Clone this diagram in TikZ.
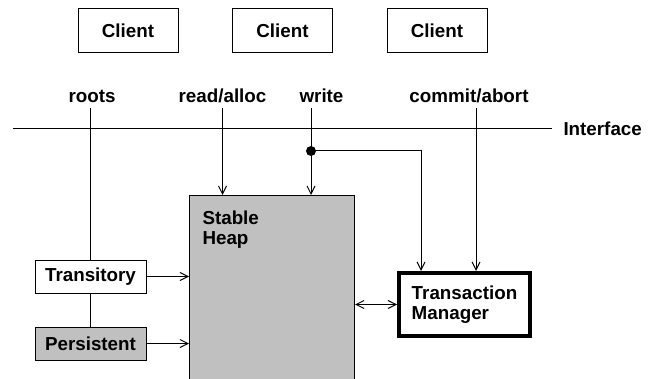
\documentclass[tikz,border=0pt]{standalone}
\usepackage{fontspec}
\setmainfont{Liberation Sans}
\usetikzlibrary{arrows.meta,positioning}
\definecolor{heapgray}{RGB}{192,192,192}

\begin{document}
\begin{tikzpicture}[x=1pt,y=-1pt,line width=1pt,
    every node/.style={font=\fontsize{18.8}{20}\selectfont\bfseries},
    client/.style={draw,minimum width=100pt,minimum height=44pt,inner sep=0pt},
    port/.style={inner sep=0pt,text height=13.5pt,text depth=5pt,anchor=base},
    rootbox/.style={draw,minimum width=111pt,minimum height=33pt,inner sep=0pt},
    >={Straight Barb[length=8pt,width=8pt]}]

    \useasboundingbox (0,0) rectangle (655,379);

    \node[client] at (128,31)   (client1) {Client};
    \node[client] at (282.5,31) (client2) {Client};
    \node[client] at (437,31)   (client3) {Client};

    \node[port] at (92,103)    (roots) {roots};
    \node[port] at (222.5,103) (readalloc) {read/alloc};
    \node[port] at (321.5,103) (write) {write};
    \node[port] at (469,103)   (commit) {commit/abort};

    \node[anchor=west,inner sep=0pt] at (563,129) (iface) {Interface};
    \coordinate (ifstart) at (13,129);
    \draw (ifstart) -- ([xshift=-11pt]iface.west);

    \node[draw,fill=heapgray,anchor=north west,minimum width=165pt,
          minimum height=200pt] at (189,195) (heap) {};
    \node[anchor=north west,align=left,inner sep=0pt,
          below right=15pt and 13pt of heap.north west] (heaplabel) {Stable\\Heap};

    \node[rootbox] at (90.5,276.5) (trans) {Transitory};
    \node[rootbox,fill=heapgray,below=33pt of trans] (pers) {Persistent};

    \node[draw,line width=4pt,align=left,minimum width=131pt,
          minimum height=63pt] at (464.5,304.5) (tm) {Transaction\\Manager};

    \node[circle,fill,inner sep=0pt,minimum size=10pt] at (311,151) (wdot) {};
    \coordinate (wturn) at (421,151);

    \draw (roots.south -| trans.north) -- (trans.north);
    \draw (trans.south) -- (pers.north);
    \draw [->] (trans.east) -- (trans.east -| heap.west);
    \draw [->] (pers.east) -- (pers.east -| heap.west);

    \draw [->] (readalloc.south) -- (readalloc.south |- heap.north);
    \draw (write.south -| wdot.center) -- (wdot.center);
    \draw [->] (wdot.center) -- (wdot.center |- heap.north);
    \draw [->] (wdot.center) -- (wturn) -- (wturn |- tm.north);
    \draw [->] ([xshift=7pt]commit.south) -- ([xshift=7pt]commit.south |- tm.north);

    \draw [<->] (tm.west -| heap.east) -- (tm.west);

\end{tikzpicture}
\end{document}
